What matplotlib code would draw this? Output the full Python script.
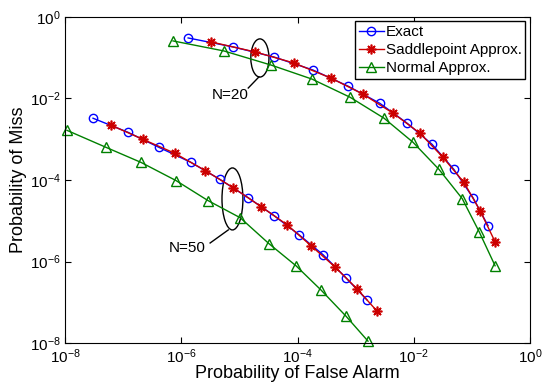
import matplotlib
matplotlib.use('Agg')
import matplotlib.pyplot as plt
from matplotlib.patches import Ellipse
from matplotlib.ticker import LogLocator, NullLocator

plt.rcParams['font.family'] = ['Liberation Sans', 'DejaVu Sans']
plt.rcParams['mathtext.fontset'] = 'custom'
plt.rcParams['mathtext.rm'] = 'Liberation Sans'
plt.rcParams['mathtext.it'] = 'Liberation Sans'

# N = 20
pfa20_exact = [1.31e-6, 7.8e-6, 3.9e-5, 1.85e-4, 7.4e-4, 2.6e-3, 7.7e-3, 2.06e-2, 4.9e-2, 0.104, 0.189]
pm20_exact = [0.304, 0.183, 0.104, 0.0496, 0.020, 7.6e-3, 2.46e-3, 7.5e-4, 1.81e-4, 3.7e-5, 7.6e-6]
pfa20_sp = [3.25e-6, 1.86e-5, 8.7e-5, 3.77e-4, 1.34e-3, 4.4e-3, 1.28e-2, 3.18e-2, 7.3e-2, 0.138, 0.25]
pm20_sp = [0.243, 0.138, 0.0738, 0.0315, 0.0127, 4.34e-3, 1.40e-3, 3.58e-4, 8.7e-5, 1.77e-5, 3.06e-6]
pfa20_norm = [7.2e-7, 5.4e-6, 3.5e-5, 1.77e-4, 8.0e-4, 3.08e-3, 9.7e-3, 2.72e-2, 6.8e-2, 0.133, 0.25]
pm20_norm = [0.257, 0.146, 0.0658, 0.0298, 0.0107, 3.27e-3, 8.4e-4, 1.81e-4, 3.5e-5, 5.4e-6, 7.9e-7]

# N = 50
pfa50_exact = [3.03e-8, 1.21e-7, 4.14e-7, 1.47e-6, 4.65e-6, 1.41e-5, 3.94e-5, 1.06e-4, 2.75e-4, 6.8e-4, 1.57e-3]
pm50_exact = [3.27e-3, 1.48e-3, 6.3e-4, 2.7e-4, 1.03e-4, 3.7e-5, 1.34e-5, 4.55e-6, 1.47e-6, 4.0e-7, 1.14e-7]
pfa50_sp = [6.2e-8, 2.2e-7, 7.8e-7, 2.57e-6, 7.8e-6, 2.35e-5, 6.6e-5, 1.71e-4, 4.4e-4, 1.06e-3, 2.33e-3]
pm50_sp = [2.2e-3, 9.9e-4, 4.5e-4, 1.71e-4, 6.5e-5, 2.23e-5, 8.0e-6, 2.44e-6, 7.4e-7, 2.13e-7, 6.1e-8]
pfa50_norm = [1.08e-8, 5.1e-8, 2.03e-7, 8.1e-7, 2.88e-6, 1.03e-5, 3.24e-5, 9.4e-5, 2.54e-4, 6.8e-4, 1.63e-3]
pm50_norm = [1.65e-3, 6.3e-4, 2.7e-4, 9.7e-5, 3.13e-5, 1.19e-5, 2.73e-6, 7.9e-7, 2.0e-7, 4.6e-8, 1.12e-8]

c_exact = '#0000ff'
c_sp = '#cc0000'
c_norm = '#008000'
star = (8, 2, 0)

fig = plt.figure(figsize=(5.42, 3.83), dpi=100)
ax = fig.add_axes([0.120, 0.104, 0.858, 0.852])

ax.plot(pfa20_exact, pm20_exact, '-', color=c_exact, marker='o', mfc='none', ms=6, lw=1, label='Exact')
ax.plot(pfa20_sp, pm20_sp, '-', color=c_sp, marker=star, ms=7, mew=1.2, lw=1, label='Saddlepoint Approx.')
ax.plot(pfa20_norm, pm20_norm, '-', color=c_norm, marker='^', mfc='none', ms=7, lw=1, label='Normal Approx.')
ax.plot(pfa50_exact, pm50_exact, '-', color=c_exact, marker='o', mfc='none', ms=6, lw=1)
ax.plot(pfa50_sp, pm50_sp, '-', color=c_sp, marker=star, ms=7, mew=1.2, lw=1)
ax.plot(pfa50_norm, pm50_norm, '-', color=c_norm, marker='^', mfc='none', ms=7, lw=1, clip_on=False)

ax.set_xscale('log')
ax.set_yscale('log')
ax.set_xlim(1e-8, 1e0)
ax.set_ylim(1e-8, 1e0)
ax.xaxis.set_major_locator(LogLocator(base=100))
ax.yaxis.set_major_locator(LogLocator(base=100))
ax.xaxis.set_minor_locator(NullLocator())
ax.yaxis.set_minor_locator(NullLocator())
ax.tick_params(which='major', direction='in', top=True, right=True, length=4, labelsize=11, pad=3)

ax.set_xlabel('Probability of False Alarm', fontsize=13, labelpad=-1)
ax.set_ylabel('Probability of Miss', fontsize=13, labelpad=2)

# N annotations
ax.add_patch(Ellipse((0.419, 0.874), 0.039, 0.117, transform=ax.transAxes, fill=False, ec='k', lw=1))
ax.plot([0.417, 0.394], [0.816, 0.782], color='k', lw=1, transform=ax.transAxes)
ax.text(0.394, 0.762, 'N=20', transform=ax.transAxes, ha='right', va='center', fontsize=11)

ax.add_patch(Ellipse((0.360, 0.442), 0.045, 0.190, transform=ax.transAxes, fill=False, ec='k', lw=1))
ax.plot([0.351, 0.312], [0.347, 0.307], color='k', lw=1, transform=ax.transAxes)
ax.text(0.303, 0.291, 'N=50', transform=ax.transAxes, ha='right', va='center', fontsize=11)

leg = ax.legend(loc='upper right', fontsize=11, handlelength=1.6, handletextpad=0.15,
                borderpad=0.25, labelspacing=0.25, borderaxespad=0.3, fancybox=False,
                framealpha=1, edgecolor='k')
leg.get_frame().set_linewidth(1)

fig.savefig('out.png', dpi=100)
